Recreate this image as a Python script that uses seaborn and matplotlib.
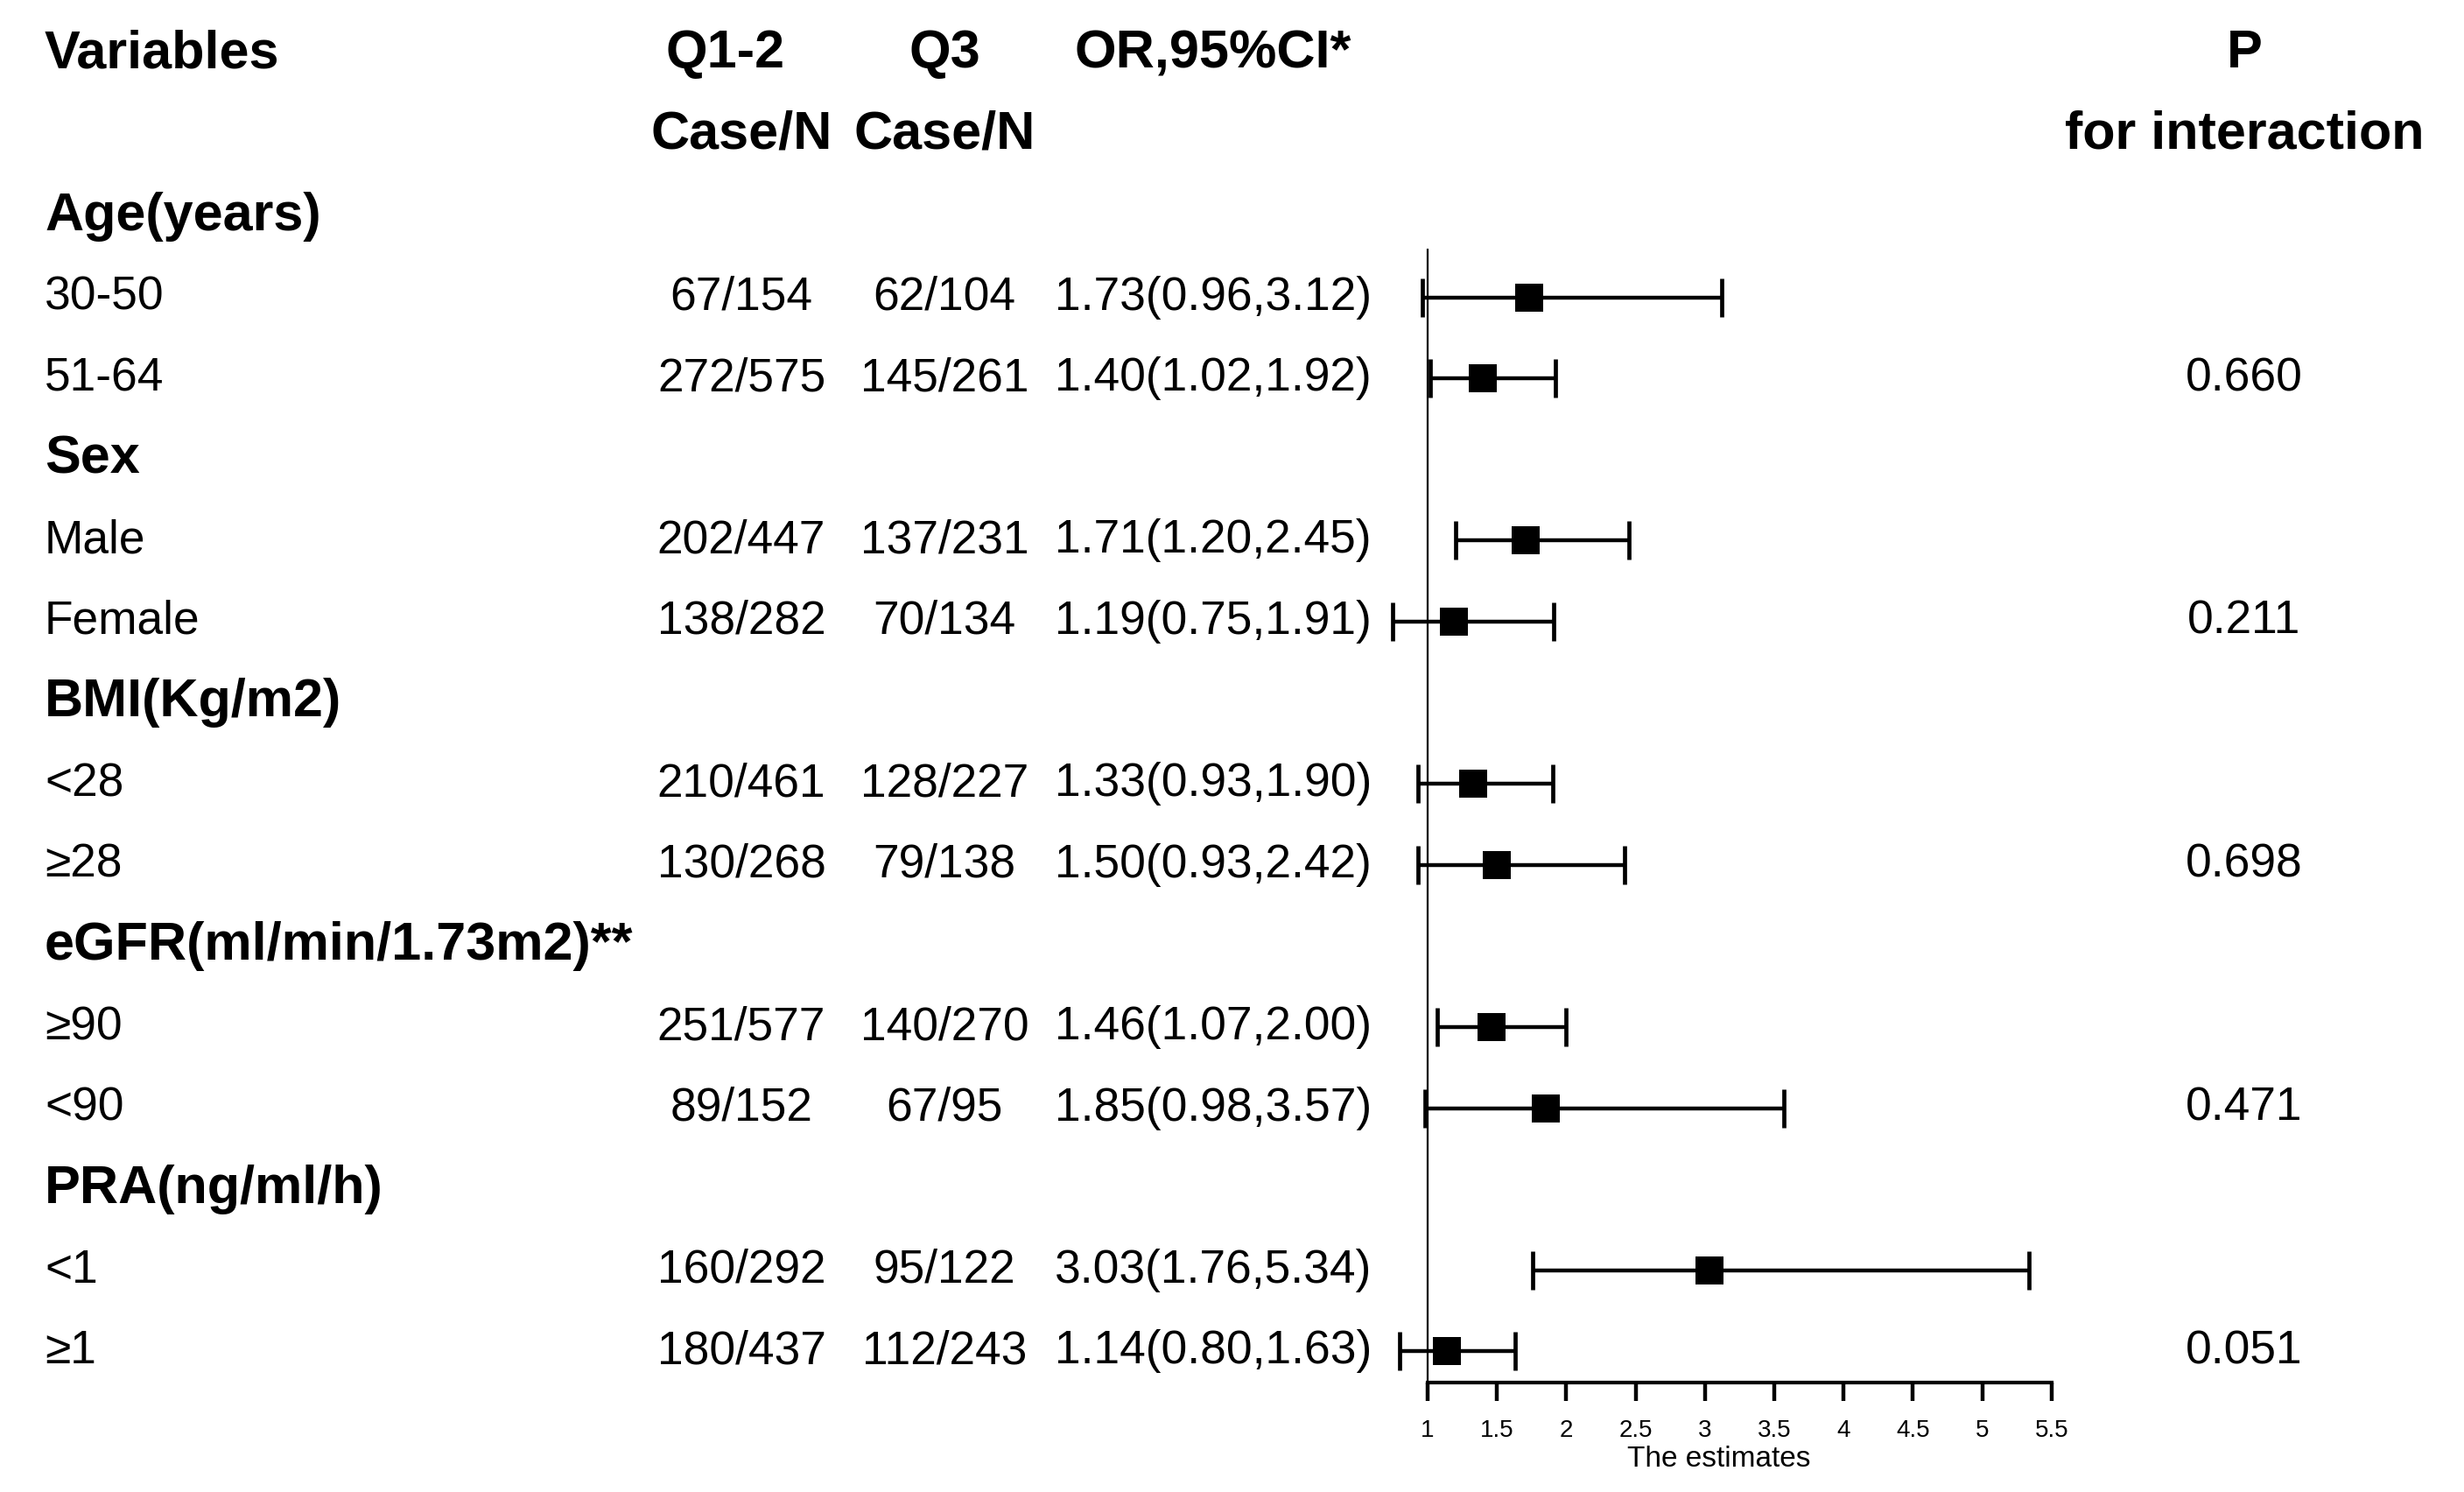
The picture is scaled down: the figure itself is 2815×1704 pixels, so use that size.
import matplotlib
matplotlib.use('Agg')
import matplotlib.pyplot as plt
import matplotlib.transforms as mtransforms
import pandas as pd
import seaborn as sns

### data
groups = ['Age(years)', 'Sex', 'BMI(Kg/m2)', 'eGFR(ml/min/1.73m2)**', 'PRA(ng/ml/h)']
subgroups = ['30-50', '51-64', 'Male', 'Female', '<28', '≥28', '≥90', '<90', '<1', '≥1']
q12_case = ['67/154', '272/575', '202/447', '138/282', '210/461',
            '130/268', '251/577', '89/152', '160/292', '180/437']
q3_case = ['62/104', '145/261', '137/231', '70/134', '128/227',
           '79/138', '140/270', '67/95', '95/122', '112/243']
or_est = [1.73, 1.40, 1.71, 1.19, 1.33, 1.50, 1.46, 1.85, 3.03, 1.14]
ci_low = [0.96, 1.02, 1.20, 0.75, 0.93, 0.93, 1.07, 0.98, 1.76, 0.80]
ci_high = [3.12, 1.92, 2.45, 1.91, 1.90, 2.42, 2.00, 3.57, 5.34, 1.63]
p_inter = ['0.660', '0.211', '0.698', '0.471', '0.051']
x_ticks = [1, 1.5, 2, 2.5, 3, 3.5, 4, 4.5, 5, 5.5]
x_ticklabels = ['1', '1.5', '2', '2.5', '3', '3.5', '4', '4.5', '5', '5.5']

### row positions: each group = header row + two subgroup rows
group_rows = [3 * g for g in range(len(groups))]
sub_rows = [3 * (i // 2) + 1 + i % 2 for i in range(len(subgroups))]

df = pd.DataFrame({'label': subgroups, 'row': sub_rows, 'est': or_est,
                   'lo': ci_low, 'hi': ci_high})

sns.set_style('white')
plt.rcParams['font.family'] = ['Liberation Sans', 'DejaVu Sans']
plt.rcParams['text.color'] = 'black'
plt.rcParams['axes.labelcolor'] = 'black'

W, H = 2815, 1704
fig = plt.figure(figsize=(W / 100, H / 100), dpi=100)

### forest axis: x=1 at px 1631, 158.4 px per unit, axis line at px 1579
unit = 158.4
x_one = 1631
y_axis = 1579
row0 = 247
row_px = 92.6
x0 = x_one - 0.4 * unit
ax = fig.add_axes([x0 / W, 1 - y_axis / H, 5.0 * unit / W, y_axis / H])
ax.set_xlim(0.6, 5.6)
y_bottom = (y_axis - row0) / row_px
ax.set_ylim(y_bottom, -row0 / row_px)

ax.errorbar(df['est'], df['row'], xerr=[df['est'] - df['lo'], df['hi'] - df['est']],
            fmt='none', ecolor='black', elinewidth=3.2, capsize=16, capthick=3.4)
sns.scatterplot(data=df, x='est', y='row', marker='s', s=560, color='black',
                edgecolor='black', linewidth=0, ax=ax, zorder=3)
ax.vlines(1, 0.4, y_bottom, color='black', lw=1.6)

sns.despine(ax=ax, left=True)
ax.spines['bottom'].set_bounds(1, 5.5)
ax.spines['bottom'].set_linewidth(3.0)
ax.spines['bottom'].set_color('black')
ax.set_yticks([])
ax.set_xticks(x_ticks)
ax.set_xticklabels(x_ticklabels)
ax.tick_params(axis='x', bottom=True, direction='out', length=15, width=3.2,
               pad=15, labelsize=20, colors='black')
ax.set_xlabel('The estimates', fontsize=24, labelpad=3)
ax.set_ylabel('')

### table text, x in figure fraction, y in row units
tr = mtransforms.blended_transform_factory(fig.transFigure, ax.transData)
fs_reg = 38.3
fs_bold = 44
x_var = 51 / W
x_q12_head = 829 / W
x_q12 = 847 / W
x_q3 = 1079 / W
x_or = 1386 / W
x_p = 2564 / W

hdr = dict(transform=tr, fontsize=fs_bold, fontweight='bold', va='center')
ax.text(x_var, -2, 'Variables', ha='left', **hdr)
ax.text(x_q12_head, -2, 'Q1-2', ha='center', **hdr)
ax.text(x_q3, -2, 'Q3', ha='center', **hdr)
ax.text(x_or, -2, 'OR,95%CI*', ha='center', **hdr)
ax.text(x_p, -2, 'P', ha='center', **hdr)
ax.text(x_q12, -1, 'Case/N', ha='center', **hdr)
ax.text(x_q3, -1, 'Case/N', ha='center', **hdr)
ax.text(x_p, -1, 'for interaction', ha='center', **hdr)

for g, r in zip(groups, group_rows):
    ax.text(x_var, r, g, ha='left', **hdr)

reg = dict(transform=tr, fontsize=fs_reg, va='center')
for i, r in enumerate(sub_rows):
    ax.text(x_var, r, subgroups[i], ha='left', **reg)
    ax.text(x_q12, r, q12_case[i], ha='center', **reg)
    ax.text(x_q3, r, q3_case[i], ha='center', **reg)
    ax.text(x_or, r, '%.2f(%.2f,%.2f)' % (or_est[i], ci_low[i], ci_high[i]), ha='center', **reg)
    if i % 2 == 1:
        ax.text(x_p, r, p_inter[i // 2], ha='center', **reg)

fig.savefig('out.png', dpi=100)
